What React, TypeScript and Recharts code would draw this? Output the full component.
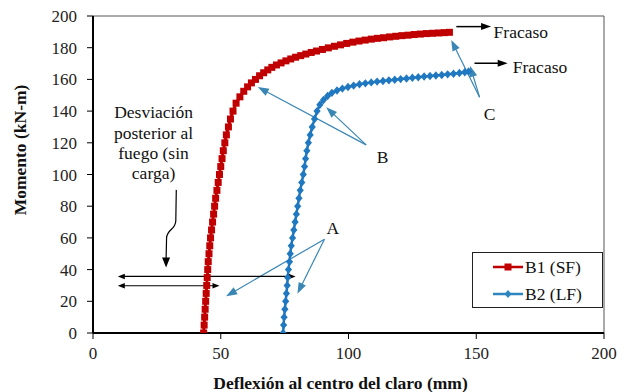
import React from 'react';
import { LineChart, Line, XAxis, YAxis, ReferenceLine, ReferenceDot, ReferenceArea, Label } from 'recharts';

// B1 (SF): [deflexión mm, momento kN-m]
const b1Points: [number, number][] = [
  [43.3,0],[43.5,5],[43.7,10],[43.9,15],[44.1,20],[44.3,25],[44.5,30],[44.7,35],[44.9,40],[45.1,45],
  [45.4,50],[45.7,55],[46.0,60],[46.4,65],[46.8,70],[47.2,75],[47.6,80],[48.0,85],[48.5,90],[49.0,95],
  [49.5,100],[50.0,105],[50.5,110],[51.0,115],[51.6,120],[52.2,125],[53.0,130],[53.8,135],[54.8,140],[56.0,145],
  [57.5,149],[59.0,152.5],[60.5,155.3],[62.0,157.8],[63.6,160],[65.2,162.3],[66.8,164.2],[68.4,166],[70.0,167.6],[71.8,169.1],
  [73.6,170.4],[75.5,171.7],[77.4,172.9],[79.3,174],[81.3,175],[83.3,176],[85.4,177],[87.5,177.9],[89.8,178.9],[92.1,179.9],
  [94.5,180.9],[96.9,181.8],[99.3,182.7],[101.7,183.5],[104.1,184.2],[106.5,184.8],[108.9,185.4],[111.3,185.9],[113.7,186.3],[116.1,186.8],
  [118.5,187.2],[120.9,187.6],[123.3,187.9],[125.7,188.3],[128.1,188.6],[130.5,188.9],[132.9,189.1],[135.3,189.3],[137.5,189.5],[139.5,189.7],
];

// B2 (LF)
const b2Points: [number, number][] = [
  [74.4,0],[74.6,5],[74.8,10],[75.1,15],[75.4,20],[75.7,25],[76.0,30],[76.2,35],[76.5,40],[76.9,45],
  [77.2,50],[77.6,55],[78.1,60],[78.6,65],[79.1,70],[79.6,75],[80.1,80],[80.6,85],[81.1,90],[81.7,95],
  [82.3,100],[82.8,105],[83.2,110],[83.7,115],[84.3,120],[85.0,125],[85.8,130],[86.7,135],[87.7,140],[88.8,144],
  [90.2,147],[91.8,149.5],[93.5,151.5],[95.5,153],[97.6,154.2],[99.8,155.2],[102.0,156.1],[104.3,156.9],[106.6,157.5],[108.9,158.1],
  [111.2,158.6],[113.5,159],[115.8,159.4],[118.1,159.8],[120.4,160.2],[122.7,160.6],[125.0,161],[127.3,161.4],[129.6,161.8],[131.9,162.1],
  [134.2,162.5],[136.5,162.8],[138.8,163.2],[141.1,163.6],[143.4,164],[145.5,164.5],[147.0,165],
];

const xTicks = [0, 50, 100, 150, 200];
const yTicks = [0, 20, 40, 60, 80, 100, 120, 140, 160, 180, 200];

const seriesNames = ['B1 (SF)', 'B2 (LF)'];
const xTitle = 'Deflexión al centro del claro (mm)';
const yTitle = 'Momento (kN-m)';
const noteLines = ['Desviación', 'posterior al', 'fuego (sin', 'carga)'];
const failLabel = 'Fracaso';

// annotation anchors in data units
const failArrows = [
  { from: [142.2, 193.3], to: [155.8, 193.3], text: [156.8, 189.9] },
  { from: [149.3, 170.2], to: [162.3, 170.2], text: [164.3, 168.2] },
];
const labelA = { text: [93.9, 66.2], apex: [90.6, 59.2], tips: [[52.1, 23.2], [80.0, 24.8]] };
const labelB = { text: [113.3, 111.1], apex: [106.9, 118.7], tips: [[64.5, 155.2], [91.3, 142.4]] };
const labelC = { text: [155.2, 138.5], apex: [151.3, 148.8], tips: [[140.2, 184.9], [147.6, 168.5]] };
const doubleArrows = [
  { y: 35.7, x1: 9.7, x2: 79.3 },
  { y: 29.8, x1: 9.7, x2: 49.5 },
];
const curvedArrow = { from: [32.6, 90.3], to: [28.6, 41.3] };
const noteAnchor = [23.7, 139.3];

const RED = '#C00000';
const BLUE = '#1F78C0';
const ARROW_BLUE = '#3A86B4';
const FONT = "'Liberation Serif', 'DejaVu Serif', serif";

const b1Data = b1Points.map(([x, y]) => ({ x, y }));
const b2Data = b2Points.map(([x, y]) => ({ x, y }));

function head(x1: number, y1: number, x2: number, y2: number, len: number, w: number) {
  const a = Math.atan2(y2 - y1, x2 - x1);
  const bx = x2 - len * Math.cos(a);
  const by = y2 - len * Math.sin(a);
  const px = -Math.sin(a) * w / 2;
  const py = Math.cos(a) * w / 2;
  return `${x2},${y2} ${bx + px},${by + py} ${bx - px},${by - py}`;
}

const arrowShape = (color: string, width: number, len: number, w: number, both = false) => (p: any) => {
  const { x1, y1, x2, y2 } = p;
  const a = Math.atan2(y2 - y1, x2 - x1);
  const ex = x2 - (len - 1) * Math.cos(a);
  const ey = y2 - (len - 1) * Math.sin(a);
  const sx = both ? x1 + (len - 1) * Math.cos(a) : x1;
  const sy = both ? y1 + (len - 1) * Math.sin(a) : y1;
  return (
    <g>
      <line x1={sx} y1={sy} x2={ex} y2={ey} stroke={color} strokeWidth={width} />
      <polygon points={head(x1, y1, x2, y2, len, w)} fill={color} />
      {both && <polygon points={head(x2, y2, x1, y1, len, w)} fill={color} />}
    </g>
  );
};

const curvedShape = (p: any) => {
  const { x1, y1, x2, y2 } = p;
  const dy = y2 - y1;
  const d = `M ${x1} ${y1} L ${x1 - 0.5} ${y1 + 0.4 * dy} C ${x1 - 1} ${y1 + 0.52 * dy}, ${x2 + 1} ${y1 + 0.5 * dy}, ${x2 + 0.5} ${y1 + 0.62 * dy} L ${x2} ${y2 - 8}`;
  return (
    <g>
      <path d={d} fill="none" stroke="#000" strokeWidth={1.2} />
      <polygon points={`${x2},${y2} ${x2 - 4},${y2 - 10} ${x2 + 4},${y2 - 10}`} fill="#000" />
    </g>
  );
};

const textShape = (txt: string, anchor: 'start' | 'middle' | 'end') => (p: any) => (
  <text x={p.cx} y={p.cy} dy="0.35em" textAnchor={anchor} style={{ fontFamily: FONT }} fontSize={17.5} fill="#111">
    {txt}
  </text>
);

const noteShape = (p: any) => (
  <text x={p.cx} y={p.cy} textAnchor="middle" style={{ fontFamily: FONT }} fontSize={17.5} fill="#111">
    {noteLines.map((l, i) => (
      <tspan key={i} x={p.cx} dy={i === 0 ? '0.35em' : 20.3}>{l}</tspan>
    ))}
  </text>
);

const SquareDot = (p: any) => (
  <rect key={`s-${p.index}`} x={p.cx - 3.5} y={p.cy - 3.5} width={7} height={7} fill={RED} />
);
const DiamondDot = (p: any) => (
  <polygon key={`d-${p.index}`} points={`${p.cx},${p.cy - 4.2} ${p.cx + 3.6},${p.cy} ${p.cx},${p.cy + 4.2} ${p.cx - 3.6},${p.cy}`} fill={BLUE} />
);

const LegendBox = () => (
  <div style={{ position: 'absolute', left: 472, top: 252, width: 131, height: 56, border: '1px solid #222', boxSizing: 'border-box', background: '#fff', fontFamily: FONT, fontSize: 17.5, color: '#111' }}>
    {[0, 1].map((i) => (
      <div key={i} style={{ position: 'absolute', left: 20, top: i === 0 ? 4 : 31, height: 20, display: 'flex', alignItems: 'center' }}>
        <svg width={30} height={12} style={{ display: 'block' }}>
          <line x1={0} y1={6} x2={30} y2={6} stroke={i === 0 ? RED : '#2E86BE'} strokeWidth={2.5} />
          {i === 0 ? (
            <rect x={11.5} y={2.5} width={7} height={7} fill={RED} />
          ) : (
            <polygon points="15,2 18.5,6 15,10 11.5,6" fill="#2E86BE" />
          )}
        </svg>
        <span style={{ marginLeft: 2, lineHeight: '20px' }}>{seriesNames[i]}</span>
      </div>
    ))}
  </div>
);

export default function App() {
  return (
    <div style={{ position: 'absolute', left: 0, top: 0, width: 627, height: 392, background: '#fff', fontFamily: FONT }}>
      <LineChart width={627} height={392} margin={{ top: 16, right: 23, left: 0, bottom: 0 }}>
        <ReferenceArea x1={0} x2={200} y1={0} y2={200} fill="none" stroke="#555" strokeWidth={1} ifOverflow="visible" />
        <XAxis
          type="number"
          dataKey="x"
          domain={[0, 200]}
          ticks={xTicks}
          allowDataOverflow
          height={59}
          axisLine={{ stroke: '#000', strokeWidth: 2 }}
          tickLine={{ stroke: '#000', strokeWidth: 1 }}
          tickSize={6}
          tickMargin={8}
          tick={{ fontFamily: FONT, fontSize: 17, fill: '#222' }}
        >
          <Label
            content={(p: any) => {
              const vb = p.viewBox;
              return (
                <text x={vb.x + vb.width / 2 - 8} y={vb.y + 50} dy="0.35em" textAnchor="middle" style={{ fontFamily: FONT }} fontWeight="bold" fontSize={17.5} fill="#111">
                  {xTitle}
                </text>
              );
            }}
          />
        </XAxis>
        <YAxis
          type="number"
          domain={[0, 200]}
          ticks={yTicks}
          allowDataOverflow
          width={93}
          axisLine={{ stroke: '#000', strokeWidth: 2 }}
          tickLine={{ stroke: '#000', strokeWidth: 1 }}
          tickSize={6}
          tickMargin={10}
          tick={{ fontFamily: FONT, fontSize: 17, fill: '#222' }}
        >
          <Label
            content={(p: any) => {
              const vb = p.viewBox;
              const cx = vb.x + 20;
              const cy = vb.y + 134;
              return (
                <text x={cx} y={cy} dy="0.35em" textAnchor="middle" transform={`rotate(-90 ${cx} ${cy})`} style={{ fontFamily: FONT }} fontWeight="bold" fontSize={17.5} fill="#111">
                  {yTitle}
                </text>
              );
            }}
          />
        </YAxis>

        <Line data={b1Data} dataKey="y" name={seriesNames[0]} stroke={RED} strokeWidth={3} dot={SquareDot} activeDot={false} isAnimationActive={false} type="linear" />
        <Line data={b2Data} dataKey="y" name={seriesNames[1]} stroke={BLUE} strokeWidth={2.5} dot={DiamondDot} activeDot={false} isAnimationActive={false} type="linear" />

        {failArrows.map((f, i) => (
          <ReferenceLine key={`fa${i}`} segment={[{ x: f.from[0], y: f.from[1] }, { x: f.to[0], y: f.to[1] }]} ifOverflow="visible" shape={arrowShape('#000', 1.5, 10, 7)} />
        ))}
        {failArrows.map((f, i) => (
          <ReferenceDot key={`ft${i}`} x={f.text[0]} y={f.text[1]} r={0} ifOverflow="visible" shape={textShape(failLabel, 'start')} />
        ))}

        {[labelA, labelB, labelC].map((lab, i) =>
          lab.tips.map((t, j) => (
            <ReferenceLine key={`ab${i}-${j}`} segment={[{ x: lab.apex[0], y: lab.apex[1] }, { x: t[0], y: t[1] }]} ifOverflow="visible" shape={arrowShape(ARROW_BLUE, 1.2, 11, 8)} />
          ))
        )}
        <ReferenceDot x={labelA.text[0]} y={labelA.text[1]} r={0} ifOverflow="visible" shape={textShape('A', 'middle')} />
        <ReferenceDot x={labelB.text[0]} y={labelB.text[1]} r={0} ifOverflow="visible" shape={textShape('B', 'middle')} />
        <ReferenceDot x={labelC.text[0]} y={labelC.text[1]} r={0} ifOverflow="visible" shape={textShape('C', 'middle')} />

        {doubleArrows.map((d, i) => (
          <ReferenceLine key={`da${i}`} segment={[{ x: d.x1, y: d.y }, { x: d.x2, y: d.y }]} ifOverflow="visible" shape={arrowShape('#000', 1.1, 7, 5.5, true)} />
        ))}
        <ReferenceLine segment={[{ x: curvedArrow.from[0], y: curvedArrow.from[1] }, { x: curvedArrow.to[0], y: curvedArrow.to[1] }]} ifOverflow="visible" shape={curvedShape} />
        <ReferenceDot x={noteAnchor[0]} y={noteAnchor[1]} r={0} ifOverflow="visible" shape={noteShape} />
      </LineChart>
      <LegendBox />
    </div>
  );
}
